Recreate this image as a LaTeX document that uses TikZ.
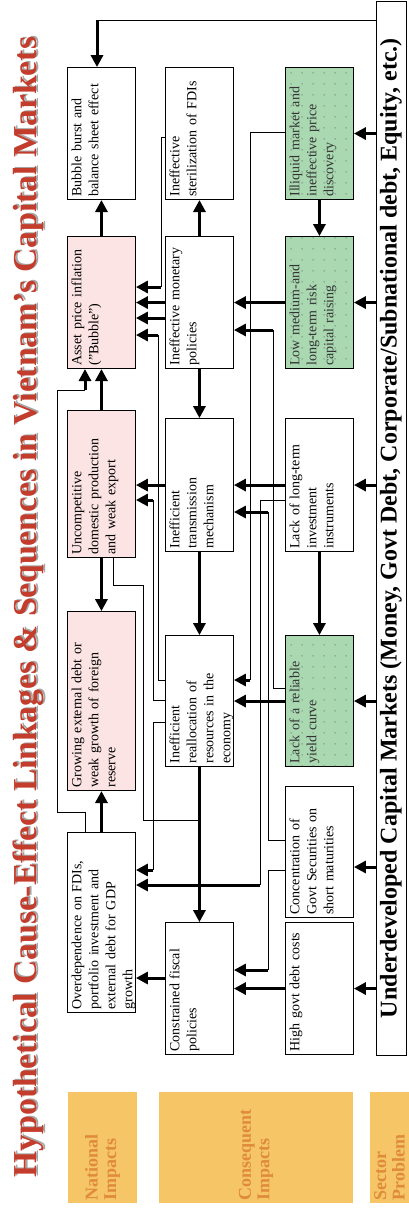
\documentclass[tikz,border=0pt]{standalone}
\usepackage{fontspec}
\setmainfont{Liberation Serif}
\usepackage{xcolor}
\usepackage{tikz}
\usetikzlibrary{arrows.meta, patterns.meta}

\definecolor{pinkfill}{HTML}{FCE4E4}
\definecolor{greenfill}{HTML}{A9D8B1}
\definecolor{titlered}{HTML}{C43C2B}
\definecolor{bandfill}{HTML}{F6C565}
\definecolor{bandtext}{HTML}{DF8B3B}

\tikzdeclarepattern{
  name=greendots,
  type=uncolored,
  bounding box={(0,0) and (11pt,11pt)},
  tile size={(11pt,11pt)},
  code={\fill (5.5pt,5.5pt) circle (0.65pt);}
}

\newcommand{\maintitle}{Hypothetical Cause-Effect Linkages \& Sequences in Vietnam’s Capital Markets}

\begin{document}
\begin{tikzpicture}[
    x=1pt, y=-1pt,
    cell/.style={draw, line width=0.9pt, rotate=90, anchor=north west,
                 align=left, inner xsep=3pt, inner ysep=2pt,
                 text width=#1, text height=12pt, text depth=52pt,
                 font=\fontsize{14}{17}\selectfont},
    pinkcell/.style={cell=#1, fill=pinkfill},
    greencell/.style={cell=#1, fill=greenfill, text=black!80,
                      postaction={pattern=greendots, pattern color=black!60}},
    band/.style={rotate=90, fill=bandfill, text=bandtext, align=left,
                 text width=105pt, minimum width=111pt, inner sep=3pt,
                 font=\fontsize{18}{18.5}\selectfont\bfseries},
    headline/.style={rotate=90, font=\fontsize{33.5}{36}\selectfont\bfseries},
    flow/.style={line width=3pt, -{Triangle[length=12pt, width=12pt]}},
    wire/.style={line width=1pt},
]
    \useasboundingbox (0,0) rectangle (409,1211);

    % Title
    \node[headline, text=black!35] (titleshade) at (30.5,606) {\maintitle};
    \node[headline, text=titlered] (title) at (28,607) {\maintitle};

    % National impacts
    \node[cell=126pt] (burst) at (67,200) {Bubble burst and\\balance sheet effect};
    \node[pinkcell=126pt] (asset) at (67,369) {Asset price inflation\\("Bubble")};
    \node[pinkcell=141pt] (uncomp) at (67,558) {Uncompetitive\\domestic production\\and weak export};
    \node[pinkcell=173pt] (growdebt) at (67,791) {Growing external debt or\\weak growth of foreign\\reserve};
    \node[cell=174pt] (overdep) at (67,1013) {Overdependence on FDIs,\\portfolio investment and\\external debt for GDP\\growth};

    % Consequent impacts
    \node[cell=126pt] (steril) at (165,200) {Ineffective\\sterilization of FDIs};
    \node[cell=126pt] (monet) at (165,369) {Ineffective monetary\\policies};
    \node[cell=127pt] (transm) at (165,552) {Inefficient\\transmission\\mechanism};
    \node[cell=125pt] (realloc) at (165,767) {Inefficient\\reallocation of\\resources in the\\economy};
    \node[cell=126pt] (fiscal) at (165,1055) {Constrained fiscal\\policies};

    % Sector problems
    \node[greencell=126pt] (illiquid) at (285,200) {Illiquid market and\\ineffective price\\discovery};
    \node[greencell=126pt] (lowrisk) at (285,369) {Low medium-and\\long-term risk\\capital raising};
    \node[cell=127pt] (longterm) at (285,552) {Lack of long-term\\investment\\instruments};
    \node[greencell=125pt] (yield) at (285,767) {Lack of a reliable\\yield curve};
    \node[cell=125pt] (concent) at (285,918) {Concentration of\\Govt Securities on\\short maturities};
    \node[cell=126pt] (debtcost) at (285,1055) {High govt debt costs};

    % Underdeveloped markets bar
    \node[draw, line width=1pt, rotate=90, minimum width=1054pt,
          minimum height=30pt, inner sep=0pt,
          font=\fontsize{24}{24}\selectfont\bfseries] (bar) at (391,528)
          {Underdeveloped Capital Markets (Money, Govt Debt, Corporate/Subnational debt, Equity, etc.)};

    % Row labels
    \node[band, minimum height=69pt] (natband) at (102.5,1147.5) {National\\Impacts};
    \node[band, minimum height=194pt] (conband) at (256,1147.5) {Consequent\\Impacts};
    \node[band, minimum height=39pt, inner ysep=0pt] (secband) at (389.5,1147.5) {Sector\\Problem};

    % From the bar
    \draw[wire] (bar.north |- 0,20) -- (97,20);
    \draw[flow] (97,20) -- (97,0 |- burst.east);
    \draw[flow] (bar.north |- illiquid) -- (illiquid);
    \draw[flow] (bar.north |- lowrisk) -- (lowrisk);
    \draw[flow] (bar.north |- longterm) -- (longterm);
    \draw[flow] (bar.north |- yield) -- (yield);
    \draw[flow] (bar.north |- 0,867) -- (concent.south |- 0,867);
    \draw[flow] (bar.north |- debtcost) -- (debtcost);

    % Sector problems
    \draw[flow] (illiquid) -- (lowrisk);
    \draw[flow] (longterm) -- (yield);
    \draw[flow] (lowrisk) -- (monet);
    \draw[flow] (longterm) -- (transm);
    \draw[flow] (yield) -- (realloc);
    \draw[flow] (debtcost) -- (fiscal);
    \draw[wire] (illiquid.north |- 0,132) -| (250,680);
    \draw[flow] (250,680) -- (realloc.south |- 0,680);
    \draw[wire] (yield.north |- 0,688) -| (273,330);
    \draw[flow] (273,330) -- (monet.south |- 0,330);
    \draw[wire] (longterm.north |- 0,500) -| (260,885);
    \draw[flow] (260,885) -- (overdep.south |- 0,885);
    \draw[wire] (concent.north |- 0,840) -| (268,512);
    \draw[flow] (268,512) -- (transm.south |- 0,512);
    \draw[wire] (concent.north |- 0,870) -| (268,970);
    \draw[flow] (268,970) -- (fiscal.south |- 0,970);

    % Consequent impacts
    \draw[flow] (monet) -- (steril);
    \draw[flow] (monet) -- (transm);
    \draw[flow] (transm) -- (realloc);
    \draw[flow] (realloc) -- (fiscal);
    \draw[flow] (monet) -- (asset);
    \draw[flow] (monet.north |- 0,318) -- (asset.south |- 0,318);
    \draw[flow] (transm) -- (transm -| uncomp.south);
    \draw[flow] (fiscal.north |- 0,978) -- (overdep.south |- 0,978);
    \draw[wire] (steril.north |- 0,137) -| (161,287);
    \draw[flow] (161,287) -- (asset.south |- 0,287);
    \draw[wire] (realloc.north |- 0,680) -| (158,335);
    \draw[flow] (158,335) -- (asset.south |- 0,335);
    \draw[wire] (realloc.north |- 0,700) -| (153,500);
    \draw[flow] (153,500) -- (uncomp.south |- 0,500);
    \draw[wire] (realloc.north |- 0,722) -| (153,870);
    \draw[flow] (153,870) -- (overdep.south |- 0,870);

    % National impacts
    \draw[flow] (asset) -- (burst);
    \draw[flow] (uncomp) -- (asset);
    \draw[flow] (uncomp) -- (growdebt);
    \draw[flow] (overdep) -- (growdebt);
    \draw[wire] (85,0 |- overdep.east) |- (57,812) |- (85,390);
    \draw[flow] (85,390) -- (85,0 |- asset.west);
    \draw[wire] (113,0 |- uncomp.west) |- (143,585) |- (199,820);

\end{tikzpicture}
\end{document}
